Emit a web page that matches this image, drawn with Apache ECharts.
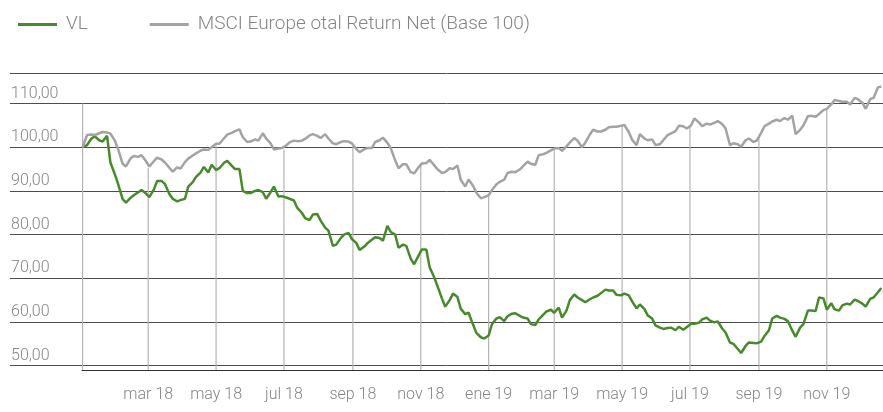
<!DOCTYPE html>
<html>
<head>
<meta charset="utf-8">
<script src="https://cdn.jsdelivr.net/npm/echarts@6/dist/echarts.min.js"></script>
<style>
  html, body { margin: 0; padding: 0; background: #fff; }
  #chart { width: 883px; height: 412px; }
</style>
</head>
<body>
<div id="chart"></div>
<script>
// Friday closes (plus the base date), base 100 at 1 Jan 2018
const closeDates = [
  "2018-01-01", "2018-01-05", "2018-01-12", "2018-01-19", "2018-01-26", "2018-02-02", "2018-02-09", "2018-02-16", "2018-02-23",
  "2018-03-02", "2018-03-09", "2018-03-16", "2018-03-23", "2018-03-30", "2018-04-06", "2018-04-13", "2018-04-20", "2018-04-27",
  "2018-05-04", "2018-05-11", "2018-05-18", "2018-05-25", "2018-06-01", "2018-06-08", "2018-06-15", "2018-06-22", "2018-06-29",
  "2018-07-06", "2018-07-13", "2018-07-20", "2018-07-27", "2018-08-03", "2018-08-10", "2018-08-17", "2018-08-24", "2018-08-31",
  "2018-09-07", "2018-09-14", "2018-09-21", "2018-09-28", "2018-10-05", "2018-10-12", "2018-10-19", "2018-10-26", "2018-11-02",
  "2018-11-09", "2018-11-16", "2018-11-23", "2018-11-30", "2018-12-07", "2018-12-14", "2018-12-21", "2018-12-28",
  "2019-01-04", "2019-01-11", "2019-01-18", "2019-01-25", "2019-02-01", "2019-02-08", "2019-02-15", "2019-02-22",
  "2019-03-01", "2019-03-08", "2019-03-15", "2019-03-22", "2019-03-29", "2019-04-05", "2019-04-12", "2019-04-19", "2019-04-26",
  "2019-05-03", "2019-05-10", "2019-05-17", "2019-05-24", "2019-05-31", "2019-06-07", "2019-06-14", "2019-06-21", "2019-06-28",
  "2019-07-05", "2019-07-12", "2019-07-19", "2019-07-26", "2019-08-02", "2019-08-09", "2019-08-16", "2019-08-23", "2019-08-30",
  "2019-09-06", "2019-09-13", "2019-09-20", "2019-09-27", "2019-10-04", "2019-10-11", "2019-10-18", "2019-10-25",
  "2019-11-01", "2019-11-08", "2019-11-15", "2019-11-22", "2019-11-29", "2019-12-06", "2019-12-13", "2019-12-20"
];

const vlClose = [
  100, 100.5, 102.5, 101.3, 96.5, 91.5, 87.3, 89, 90.2, 88.6,
  92.3, 91.6, 88.2, 87.9, 91, 93.2, 95.5, 96, 95.2, 96.9,
  95, 90, 89.5, 90.2, 88.2, 91, 88.8, 88.2, 86.1, 83.8,
  84.6, 83.2, 80.9, 77.7, 80, 79, 76.5, 78, 79.4, 78.6,
  80.6, 77, 77.4, 73.2, 76.6, 72.5, 68.2, 63.5, 66.5, 63,
  62.1, 57.5, 56.2, 59.5, 61.1, 61.3, 62, 61, 59.5, 60.6,
  62.4, 62.1, 61, 65, 65.6, 64.5, 65.6, 66.6, 67.2, 66.2,
  66.5, 64.7, 64, 61.5, 59.2, 58.4, 58.7, 58.9, 58.8, 59.6,
  60.6, 60.3, 60.1, 57.6, 55, 52.9, 55.3, 55.1, 56.8, 60.8,
  61, 60.2, 56.6, 59.5, 62.6, 65.6, 62.8, 62.9, 63.8, 64,
  64.8, 63.5, 65.6, 67.8
];

const msciClose = [
  100, 102.8, 102.8, 103.5, 103.1, 99.5, 95.6, 98, 98.2, 95.6,
  97.6, 96.5, 94.4, 95.1, 97.4, 98.6, 99.5, 100, 100.8, 102.9,
  103.7, 102.3, 101.3, 101.5, 102, 99.5, 99.8, 101.1, 101.4, 101.9,
  103, 102.1, 102, 100.7, 101.4, 100.9, 98.9, 99.8, 101.2, 102.2,
  99.8, 95.2, 96.1, 94, 96.3, 97.1, 95, 94.3, 95, 92.5,
  92.6, 89.6, 88.6, 90.2, 92.1, 94.1, 94.3, 95.7, 96.2, 98.2,
  98.7, 99.7, 99.2, 101.1, 101.5, 101.1, 104, 103.6, 104.6, 104.7,
  105.1, 101.7, 103, 101.6, 100.5, 101.6, 103.2, 104.9, 104.3, 106.6,
  104.8, 105.2, 106, 104.3, 100.9, 100.1, 102, 101.5, 104.8, 105.9,
  106, 106.3, 103, 105, 107.2, 107.6, 108.8, 110.8, 110.4, 109.8,
  111, 108.8, 111.3, 113.9
];

// Tuesday readings between the Friday closes
const midDates = [
  "2018-01-09", "2018-01-16", "2018-01-23", "2018-01-30", "2018-02-06", "2018-02-13", "2018-02-20", "2018-02-27",
  "2018-03-06", "2018-03-13", "2018-03-20", "2018-03-27", "2018-04-03", "2018-04-10", "2018-04-17", "2018-04-24",
  "2018-05-01", "2018-05-08", "2018-05-15", "2018-05-22", "2018-05-29", "2018-06-05", "2018-06-12", "2018-06-19", "2018-06-26",
  "2018-07-03", "2018-07-10", "2018-07-17", "2018-07-24", "2018-07-31", "2018-08-07", "2018-08-14", "2018-08-21", "2018-08-28",
  "2018-09-04", "2018-09-11", "2018-09-18", "2018-09-25", "2018-10-02", "2018-10-09", "2018-10-16", "2018-10-23", "2018-10-30",
  "2018-11-06", "2018-11-13", "2018-11-20", "2018-11-27", "2018-12-04", "2018-12-11", "2018-12-18", "2018-12-25",
  "2019-01-01", "2019-01-08", "2019-01-15", "2019-01-22", "2019-01-29", "2019-02-05", "2019-02-12", "2019-02-19", "2019-02-26",
  "2019-03-05", "2019-03-12", "2019-03-19", "2019-03-26", "2019-04-02", "2019-04-09", "2019-04-16", "2019-04-23", "2019-04-30",
  "2019-05-07", "2019-05-14", "2019-05-21", "2019-05-28", "2019-06-04", "2019-06-11", "2019-06-18", "2019-06-25",
  "2019-07-02", "2019-07-09", "2019-07-16", "2019-07-23", "2019-07-30", "2019-08-06", "2019-08-13", "2019-08-20", "2019-08-27",
  "2019-09-03", "2019-09-10", "2019-09-17", "2019-09-24", "2019-10-01", "2019-10-08", "2019-10-15", "2019-10-22", "2019-10-29",
  "2019-11-05", "2019-11-12", "2019-11-19", "2019-11-26", "2019-12-03", "2019-12-10", "2019-12-17"
];

const vlMid = [
  102, 101.6, 102.6, 93.8, 88.1, 88.4, 89.7, 89.4, 90.3, 92.3,
  89.3, 87.6, 88.2, 92, 94.2, 94.2, 94.8, 96.4, 95.8, 95,
  89.5, 90, 89.7, 89.7, 88.7, 88.5, 87.8, 85, 83.3, 84.7,
  81.6, 77.4, 79.2, 80.4, 78.1, 77.2, 78.8, 79.2, 82, 80,
  77.7, 74.5, 75.2, 76.6, 70.3, 65.4, 65, 65.7, 61.8, 59.4,
  56.5, 56.9, 60.8, 60.2, 61.9, 61.4, 60.8, 59.3, 61.6, 62.8,
  63.3, 62.6, 66.3, 65, 65.2, 66, 67.4, 67.2, 66.1, 66.1,
  63.1, 63, 60.8, 58.7, 58.6, 58.1, 58.2, 59.6, 59.8, 61,
  59.9, 58.5, 55.3, 53.8, 54.5, 55.2, 55.5, 58.1, 61.4, 60.7,
  58, 58.7, 62.6, 62.5, 65.4, 64.3, 62.6, 64.2, 65.1, 64.2,
  65.3, 66.8
];

const msciMid = [
  102.9, 103.2, 103.4, 101.5, 96.2, 97.4, 97.8, 96.8, 96.8, 97.2,
  95.3, 95.4, 96.6, 98.1, 99.2, 99.4, 100.8, 102, 103.3, 104.1,
  101.2, 101.8, 103.2, 100.9, 99.7, 100.4, 101.5, 101.5, 102.7, 102.6,
  103, 100.9, 101.2, 101.3, 99.6, 99.5, 99.8, 101.6, 101, 97,
  96.1, 94.3, 95.4, 96.4, 95.9, 94.1, 95.2, 95.8, 91, 91.2,
  88.3, 89, 91.5, 92.6, 94.4, 94.9, 96.7, 96, 98.4, 99.3,
  99.8, 100.2, 102.1, 100, 102.9, 103.6, 104, 104.7, 104.9, 103.5,
  100.5, 102, 101.8, 100.7, 102.8, 103.7, 104.8, 105, 105.7, 105.4,
  105.6, 105.3, 100.5, 100.7, 101.6, 101.2, 103.3, 105.4, 106.3, 106.7,
  107.2, 104, 107.1, 107, 108.5, 109.8, 110.6, 110.4, 111.3, 110.2,
  111, 113.7
];

// vertical guide lines every two months, drawn up to the index line
const guideDates = [
  "2018-01-01", "2018-03-01", "2018-05-01", "2018-07-01", "2018-09-01", "2018-11-01",
  "2019-01-01", "2019-03-01", "2019-05-01", "2019-07-01", "2019-09-01", "2019-11-01"
];
const guideTops = [110, 95.3, 100.4, 99.5, 100.4, 96.3, 88.8, 99.5, 105, 104.6, 102.7, 108.8];

const monthNames = ["ene", "feb", "mar", "abr", "may", "jun", "jul", "ago", "sep", "oct", "nov", "dic"];

const seriesNames = ["VL", "MSCI Europe otal Return Net (Base 100)"];

// merge closes and mid-week readings in date order
const byDate = (a, b) => (a[0] < b[0] ? -1 : a[0] > b[0] ? 1 : 0);
const vlData = closeDates.map((d, i) => [d, vlClose[i]])
  .concat(midDates.map((d, i) => [d, vlMid[i]]))
  .sort(byDate);
const msciData = closeDates.map((d, i) => [d, msciClose[i]])
  .concat(midDates.map((d, i) => [d, msciMid[i]]))
  .sort(byDate);

const chart = echarts.init(document.getElementById("chart"));

const font = "Roboto";
const textGray = "#858585";

const option = {
  animation: false,
  legend: {
    left: 13,
    top: 10,
    icon: "rect",
    itemWidth: 39,
    itemHeight: 3,
    itemGap: 62,
    data: seriesNames,
    textStyle: {
      fontFamily: font,
      fontWeight: 300,
      fontSize: 19,
      color: textGray,
      padding: [0, 0, 0, 4],
    },
  },
  grid: [
    // background grid: full width horizontal rules and labels
    { left: 10, right: 0, top: 73, bottom: 2.7 },
    // plot area
    { left: 82, right: 0, top: 73, bottom: 42 },
  ],
  xAxis: [
    { gridIndex: 0, type: "value", min: 0, max: 1, show: false },
    {
      gridIndex: 1,
      type: "time",
      min: "2018-01-01",
      max: "2019-12-21",
      splitNumber: 10,
      axisLine: { show: true, lineStyle: { color: "#333", width: 1 } },
      axisTick: { show: false },
      splitLine: { show: false },
      axisLabel: {
        margin: 17,
        fontFamily: font,
        fontWeight: 300,
        fontSize: 16,
        color: textGray,
        hideOverlap: false,
        formatter: (value) => {
          const d = new Date(value);
          if (d.getFullYear() === 2018 && d.getMonth() === 0) return "";
          return monthNames[d.getMonth()] + " " + String(d.getFullYear()).slice(2);
        },
      },
    },
  ],
  yAxis: [
    {
      gridIndex: 0,
      type: "value",
      min: 40,
      max: 117,
      interval: 10,
      axisLine: { show: false },
      axisTick: { show: false },
      splitLine: {
        show: true,
        showMinLine: false,
        lineStyle: { color: "#4d4d4d", width: 1 },
      },
      axisLabel: {
        inside: true,
        margin: 1,
        verticalAlign: "bottom",
        lineHeight: 16,
        padding: [0, 0, 2, 0],
        fontFamily: font,
        fontWeight: 300,
        fontSize: 16,
        color: textGray,
        formatter: (v) => (v < 50 || v % 10 !== 0 ? "" : v.toFixed(2).replace(".", ",")),
      },
    },
    {
      gridIndex: 1,
      type: "value",
      min: 49,
      max: 117,
      show: false,
      splitLine: { show: false },
    },
  ],
  series: [
    {
      type: "bar",
      xAxisIndex: 1,
      yAxisIndex: 1,
      barWidth: 1.2,
      itemStyle: { color: "#b3b3b3" },
      data: guideDates.map((d, i) => [d, guideTops[i]]),
      silent: true,
    },
    {
      name: seriesNames[0],
      type: "line",
      xAxisIndex: 1,
      yAxisIndex: 1,
      showSymbol: false,
      symbol: "none",
      color: "#478a2c",
      lineStyle: { width: 2.5, color: "#478a2c" },
      data: vlData,
    },
    {
      name: seriesNames[1],
      type: "line",
      xAxisIndex: 1,
      yAxisIndex: 1,
      showSymbol: false,
      symbol: "none",
      color: "#a3a3a3",
      lineStyle: { width: 2.5, color: "#a3a3a3" },
      data: msciData,
    },
  ],
};

chart.setOption(option);
</script>
</body>
</html>
